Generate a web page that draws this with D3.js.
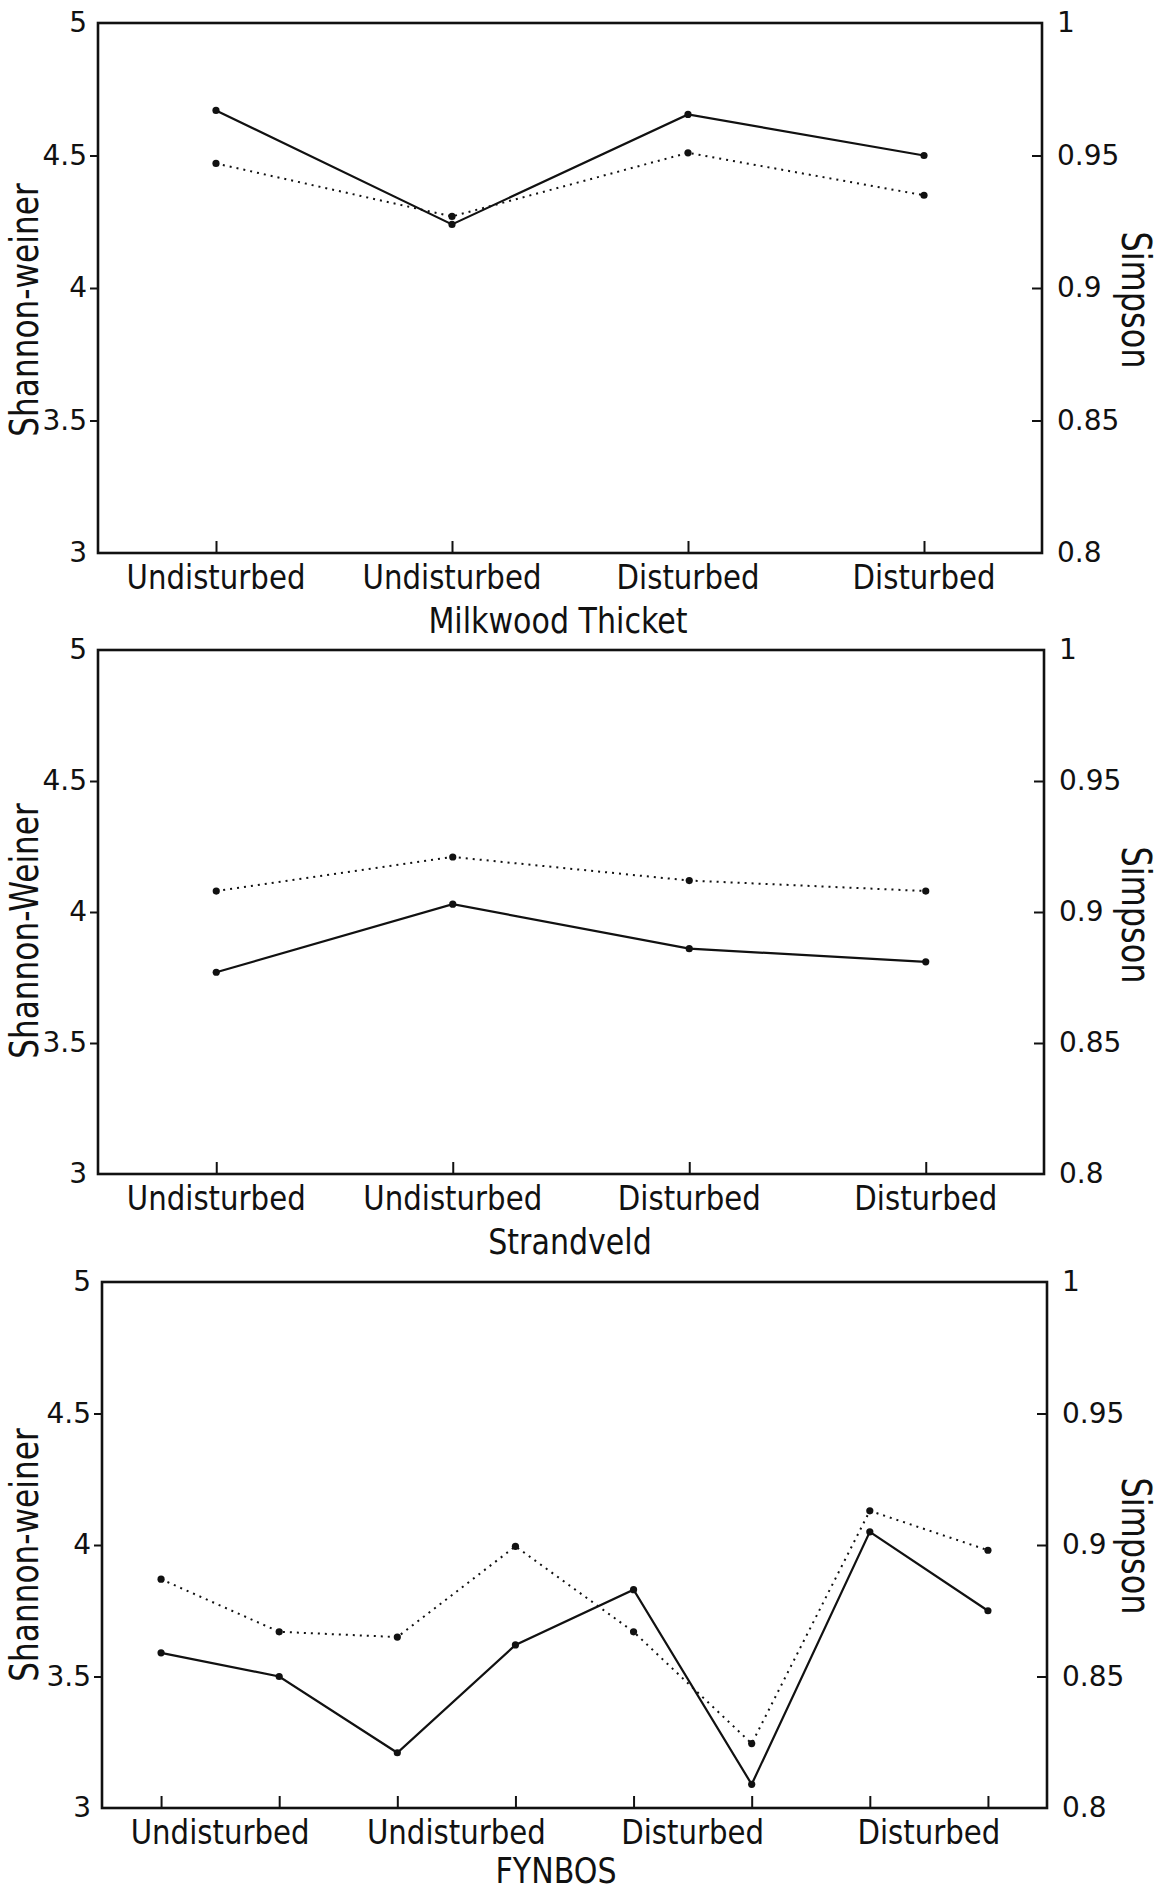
<!DOCTYPE html>
<html>
<head>
<meta charset="utf-8">
<script src="https://cdn.jsdelivr.net/npm/d3@7"></script>
<style>
  body { margin: 0; background: #fff; }
  text { font-family: "DejaVu Sans", sans-serif; fill: #111; }
</style>
</head>
<body>
<div id="chart"></div>
<script>
var width = 1160,
    height = 1891;

// values
var groupLabels = ["Undisturbed", "Undisturbed", "Disturbed", "Disturbed"];
var panelTitles = ["Milkwood Thicket", "Strandveld", "FYNBOS"];
var leftTitles = ["Shannon-weiner", "Shannon-Weiner", "Shannon-weiner"];
var shannonTicks = [3, 3.5, 4, 4.5, 5];
var simpsonTicks = [0.8, 0.85, 0.9, 0.95, 1];

var milkwoodShannon = [4.67, 4.24, 4.655, 4.50];
var milkwoodSimpson = [0.947, 0.927, 0.951, 0.935];
var strandveldShannon = [3.77, 4.03, 3.86, 3.81];
var strandveldSimpson = [0.908, 0.921, 0.912, 0.908];
var fynbosShannon = [3.59, 3.50, 3.21, 3.62, 3.83, 3.09, 4.05, 3.75];
var fynbosSimpson = [0.887, 0.867, 0.865, 0.8995, 0.867, 0.8245, 0.913, 0.898];

var shannonSeries = [milkwoodShannon, strandveldShannon, fynbosShannon];
var simpsonSeries = [milkwoodSimpson, strandveldSimpson, fynbosSimpson];

// where each panel sits on the page
var layout = [
  {x0: 98,  x1: 1042, y0: 23,   y1: 553,  leftY: 310,  rightY: 300,  titleX: 558, titleDy: 80},
  {x0: 98,  x1: 1044, y0: 650,  y1: 1174, leftY: 931,  rightY: 915,  titleX: 570, titleDy: 80},
  {x0: 102, x1: 1047, y0: 1282, y1: 1808, leftY: 1555, rightY: 1546, titleX: 556, titleDy: 75}
];

var svg = d3.select("#chart").append("svg")
    .attr("width", width)
    .attr("height", height)

var squeeze = "scale(0.86,1)";

function drawPanel(p){
  var L = layout[p];
  var w = L.x1 - L.x0, h = L.y1 - L.y0;
  var shannon = shannonSeries[p], simpson = simpsonSeries[p];

  var g = svg.append("g").attr("transform", "translate(" + L.x0 + "," + L.y0 + ")");

  var x = d3.scalePoint().domain(d3.range(shannon.length)).range([0, w]).padding(0.5);
  var groups = d3.scaleBand().domain(d3.range(groupLabels.length)).range([0, w]);
  var yL = d3.scaleLinear().domain([3, 5]).range([h, 0]);
  var yR = d3.scaleLinear().domain([0.8, 1]).range([h, 0]);

  // left axis, ticks outward
  var ax = g.append("g")
    .call(d3.axisLeft(yL).tickValues(shannonTicks).tickSizeInner(8).tickSizeOuter(0)
      .tickPadding(3).tickFormat(d3.format("")));
  // right axis, ticks inward
  var axR = g.append("g").attr("transform", "translate(" + w + ",0)")
    .call(d3.axisRight(yR).tickValues(simpsonTicks).tickSizeInner(-10).tickSizeOuter(0)
      .tickPadding(15).tickFormat(d3.format("")));
  // bottom ticks, inward
  var axB = g.append("g").attr("transform", "translate(0," + h + ")")
    .call(d3.axisBottom(x).tickSizeInner(-12).tickSizeOuter(0).tickFormat(""));
  // category labels
  var axG = g.append("g").attr("transform", "translate(0," + h + ")")
    .call(d3.axisBottom(groups).tickSize(0).tickPadding(12).tickFormat(function(i){ return groupLabels[i]; }));

  [ax, axR, axB, axG].forEach(function(a){
    a.select(".domain").remove();
    a.attr("font-family", null).attr("font-size", null);
    a.selectAll("line").attr("stroke", "#111").attr("stroke-width", 2);
    a.selectAll("text").attr("fill", "#111").style("font-size", "28px");
  });
  ax.selectAll(".tick").filter(function(d){ return d == 3 || d == 5; }).select("line").remove();
  axR.selectAll(".tick").filter(function(d){ return d == 0.8 || d == 1; }).select("line").remove();
  axG.selectAll("text").style("font-size", "34px").attr("transform", squeeze);

  // frame
  g.append("rect")
    .attr("width", w)
    .attr("height", h)
    .attr("fill", "none")
    .attr("stroke", "#111")
    .attr("stroke-width", 2.6);

  var lineL = d3.line().x(function(d, i){ return x(i); }).y(function(d){ return yL(d); });
  var lineR = d3.line().x(function(d, i){ return x(i); }).y(function(d){ return yR(d); });

  g.append("path").datum(simpson)
    .attr("d", lineR)
    .attr("fill", "none")
    .attr("stroke", "#111")
    .attr("stroke-width", 2)
    .attr("stroke-dasharray", "2,5");

  g.append("path").datum(shannon)
    .attr("d", lineL)
    .attr("fill", "none")
    .attr("stroke", "#111")
    .attr("stroke-width", 2.2);

  g.selectAll(".dotR").data(simpson).enter().append("circle")
    .attr("cx", function(d, i){ return x(i); })
    .attr("cy", function(d){ return yR(d); })
    .attr("r", 3.6)
    .attr("fill", "#111");

  g.selectAll(".dotL").data(shannon).enter().append("circle")
    .attr("cx", function(d, i){ return x(i); })
    .attr("cy", function(d){ return yL(d); })
    .attr("r", 3.6)
    .attr("fill", "#111");

  // axis titles
  svg.append("text")
    .attr("transform", "translate(38," + L.leftY + ") rotate(-90) scale(0.8,1)")
    .attr("text-anchor", "middle")
    .style("font-size", "39px")
    .text(leftTitles[p]);

  svg.append("text")
    .attr("transform", "translate(1122," + L.rightY + ") rotate(90) scale(0.8,1)")
    .attr("text-anchor", "middle")
    .style("font-size", "40px")
    .text("Simpson");

  svg.append("text")
    .attr("transform", "translate(" + L.titleX + "," + (L.y1 + L.titleDy) + ") " + squeeze)
    .attr("text-anchor", "middle")
    .style("font-size", "35px")
    .text(panelTitles[p]);
}

for (var p = 0; p < 3; p++){
  drawPanel(p);
}
</script>
</body>
</html>
